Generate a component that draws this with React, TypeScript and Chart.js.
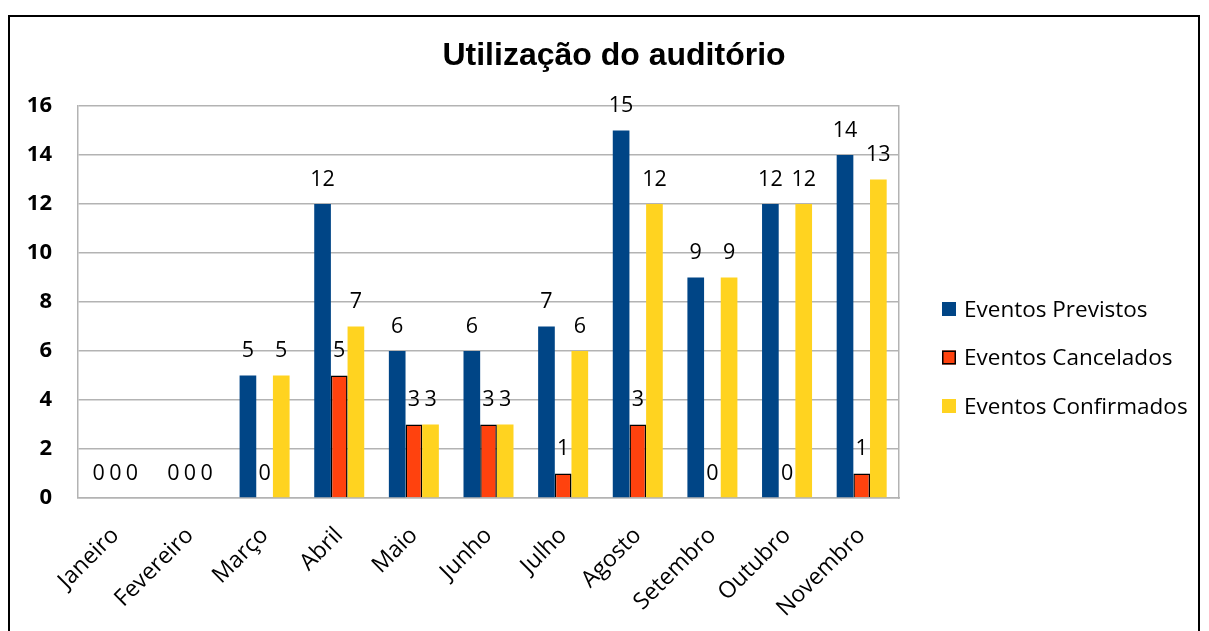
import React, { useEffect, useRef } from "react";
import { Chart, registerables } from "chart.js";

Chart.register(...registerables);

const TITLE = "Utilização do auditório";
const MONTHS = ["Janeiro", "Fevereiro", "Março", "Abril", "Maio", "Junho", "Julho", "Agosto", "Setembro", "Outubro", "Novembro"];
const PREVISTOS = [0, 0, 5, 12, 6, 6, 7, 15, 9, 12, 14];
const CANCELADOS = [0, 0, 0, 5, 3, 3, 1, 3, 0, 0, 1];
const CONFIRMADOS = [0, 0, 5, 7, 3, 3, 6, 12, 9, 12, 13];
const SERIES_NAMES = ["Eventos Previstos", "Eventos Cancelados", "Eventos Confirmados"];
const Y_MIN = 0;
const Y_MAX = 16;
const Y_STEP = 2;

const FONT = "'Open Sans', Lato, sans-serif";
const GRID = "#b3b3b3";

const overlayPlugin = {
  id: "overlay",
  afterDatasetsDraw(chart: any) {
    const ctx = chart.ctx;
    ctx.save();
    ctx.fillStyle = "#000";
    ctx.font = `21.5px ${FONT}`;
    ctx.textAlign = "center";
    ctx.textBaseline = "alphabetic";
    chart.data.datasets.forEach((ds: any, di: number) => {
      const meta = chart.getDatasetMeta(di);
      meta.data.forEach((bar: any, i: number) => {
        ctx.fillText(String(ds.data[i]), bar.x, bar.y - 18.5);
      });
    });
    ctx.restore();
  },
  afterDraw(chart: any) {
    const ctx = chart.ctx;
    ctx.save();
    // title
    ctx.fillStyle = "#000";
    ctx.font = `bold 32px 'Liberation Sans', Arial, sans-serif`;
    ctx.textAlign = "center";
    ctx.textBaseline = "alphabetic";
    ctx.fillText(TITLE, 614, 65);
    // legend
    ctx.font = `22.5px ${FONT}`;
    ctx.textAlign = "left";
    chart.data.datasets.forEach((ds: any, di: number) => {
      const top = 302 + di * 48.5;
      ctx.fillStyle = ds.backgroundColor;
      ctx.fillRect(942, top, 14, 14);
      if (ds.borderWidth) {
        ctx.strokeStyle = ds.borderColor;
        ctx.lineWidth = 1.5;
        ctx.strokeRect(942.75, top + 0.75, 12.5, 12.5);
      }
      ctx.fillStyle = "#000";
      ctx.fillText(ds.label, 964, top + 14.5);
    });
    ctx.restore();
  },
};

export default function App() {
  const ref = useRef<HTMLCanvasElement | null>(null);
  useEffect(() => {
    if (!ref.current) return;
    const chart = new Chart(ref.current, {
      type: "bar",
      data: {
        labels: MONTHS,
        datasets: [
          { label: SERIES_NAMES[0], data: PREVISTOS, backgroundColor: "#004586", borderWidth: 0 },
          { label: SERIES_NAMES[1], data: CANCELADOS, backgroundColor: "#ff420e", borderColor: "#000000", borderWidth: 1.5 },
          { label: SERIES_NAMES[2], data: CONFIRMADOS, backgroundColor: "#ffd320", borderWidth: 0 },
        ],
      },
      options: {
        responsive: false,
        animation: false,
        layout: { padding: { top: 106, left: 28, right: 310, bottom: 0 } },
        datasets: { bar: { categoryPercentage: 0.67, barPercentage: 1 } },
        plugins: {
          legend: { display: false },
          title: { display: false },
          tooltip: { enabled: false },
        },
        scales: {
          x: {
            grid: { display: false, drawTicks: false },
            border: { display: true, color: GRID, width: 1.5 },
            ticks: {
              color: "#000",
              font: { family: FONT, size: 23 },
              minRotation: 45,
              maxRotation: 45,
              padding: 24,
              autoSkip: false,
            },
            afterFit: (s: any) => {
              s.height = 133;
            },
          },
          y: {
            min: Y_MIN,
            max: Y_MAX,
            ticks: {
              stepSize: Y_STEP,
              color: "#000",
              font: { family: FONT, size: 22, weight: "bold" },
              padding: 26,
            },
            grid: { color: GRID, lineWidth: 1.5, drawTicks: false },
            border: { display: true, color: GRID, width: 1.5 },
            afterFit: (s: any) => {
              s.width = 50;
            },
          },
          y2: {
            position: "right",
            min: Y_MIN,
            max: Y_MAX,
            ticks: { display: false },
            grid: { display: false, drawTicks: false },
            border: { display: true, color: GRID, width: 1.5 },
            afterFit: (s: any) => {
              s.width = 0;
            },
          },
        },
      },
      plugins: [overlayPlugin],
    });
    return () => chart.destroy();
  }, []);

  return (
    <div style={{ position: "fixed", left: 0, top: 0, width: 1209, height: 631, background: "#fff", overflow: "hidden" }}>
      <div
        style={{
          position: "absolute",
          left: 8,
          top: 15,
          width: 1192,
          height: 700,
          border: "2px solid #000",
          boxSizing: "border-box",
        }}
      />
      <canvas ref={ref} width={1209} height={631} style={{ position: "absolute", left: 0, top: 0 }} />
    </div>
  );
}
